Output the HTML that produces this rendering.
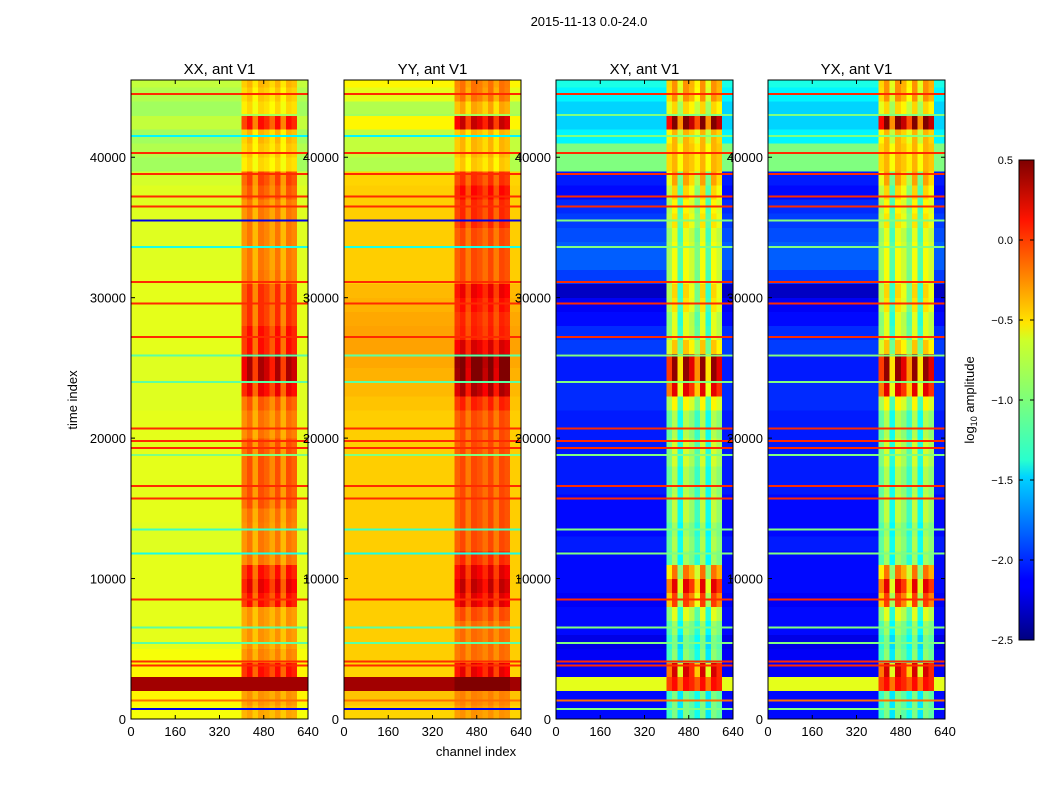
<!DOCTYPE html>
<html><head><meta charset="utf-8">
<style>
body{margin:0;background:#fff;font-family:"Liberation Sans",sans-serif;}
svg text{font-family:"Liberation Sans",sans-serif;fill:#000;}
</style></head>
<body>
<svg id="fig" width="1050" height="800" viewBox="0 0 1050 800" xmlns="http://www.w3.org/2000/svg">
<defs>
<linearGradient id="jet" x1="0" y1="1" x2="0" y2="0">
<stop offset="0" stop-color="#00007f"/><stop offset="0.11" stop-color="#0000ff"/><stop offset="0.125" stop-color="#0000ff"/>
<stop offset="0.34" stop-color="#00d4ff"/><stop offset="0.375" stop-color="#29ffce"/><stop offset="0.5" stop-color="#7dff7a"/>
<stop offset="0.625" stop-color="#ceff29"/><stop offset="0.66" stop-color="#ffe500"/><stop offset="0.875" stop-color="#ff1400"/>
<stop offset="1" stop-color="#7f0000"/></linearGradient>
</defs>
<text x="589" y="26" font-size="13" text-anchor="middle">2015-11-13 0.0-24.0</text>
<text x="476" y="756" font-size="13" text-anchor="middle">channel index</text>
<text x="0" y="0" font-size="13" text-anchor="middle" transform="translate(77,400) rotate(-90)">time index</text>
<g id="panels"></g>
<g>
<rect x="1019" y="160" width="15" height="480" fill="url(#jet)" stroke="#000" stroke-width="1"/>
<g id="cbticks"></g>
<text x="0" y="0" font-size="13" text-anchor="middle" transform="translate(974,400) rotate(-90)">log<tspan font-size="9" dy="3">10</tspan><tspan dy="-3"> amplitude</tspan></text>
</g>
</svg>
<script>
// ---- data ----
const panelTitles = ["XX, ant V1","YY, ant V1","XY, ant V1","YX, ant V1"];
const yTicks = [0,10000,20000,30000,40000];
const xTicks = [0,160,320,480,640];
const cbTicks = [0.5,0.0,-0.5,-1.0,-1.5,-2.0,-2.5];
// channel-bin (20 channels each, 32 bins) RFI weight
const rfiWeight = [0,0,0,0,0,0,0,0,0,0,0,0,0,0,0,0,0,0,0,0,0.8,1,0.6,1,0.9,0.7,1,0.6,1,0.9,0,0];
// time bins of 1000, 46 bins: background level
const xxBase = [-0.65,-0.6,0.4,-0.6,-0.65,-0.7,-0.7,-0.7,-0.7,-0.7,-0.7,-0.7,-0.72,-0.72,-0.7,-0.7,-0.7,-0.7,-0.7,-0.7,-0.7,-0.7,-0.72,-0.72,-0.72,-0.72,-0.7,-0.7,-0.7,-0.7,-0.7,-0.7,-0.72,-0.72,-0.72,-0.72,-0.72,-0.72,-0.75,-0.9,-0.85,-0.9,-0.8,-0.9,-0.85,-0.8];
const xxRfi = [0.3,0.3,0.0,0.7,0.4,0.4,0.4,0.4,0.8,0.9,0.8,0.5,0.5,0.5,0.5,0.6,0.6,0.6,0.6,0.6,0.5,0.5,0.6,0.9,1.1,1.1,0.8,0.8,0.7,0.7,0.7,0.5,0.5,0.5,0.5,0.5,0.5,0.6,0.7,0.4,0.4,0.5,0.9,0.4,0.4,0.4];
const yyBase = [-0.5,-0.45,0.4,-0.5,-0.48,-0.48,-0.48,-0.48,-0.48,-0.48,-0.48,-0.48,-0.48,-0.48,-0.48,-0.48,-0.48,-0.48,-0.48,-0.48,-0.48,-0.48,-0.45,-0.42,-0.4,-0.37,-0.35,-0.35,-0.37,-0.4,-0.42,-0.48,-0.48,-0.48,-0.48,-0.48,-0.48,-0.48,-0.5,-0.85,-0.8,-0.8,-0.6,-0.85,-0.7,-0.6];
const yyRfi = [0.2,0.2,0.2,0.7,0.3,0.3,0.3,0.4,0.7,0.8,0.7,0.5,0.4,0.4,0.4,0.4,0.4,0.4,0.4,0.4,0.4,0.4,0.5,0.8,1.0,1.0,0.6,0.4,0.4,0.5,0.6,0.4,0.4,0.4,0.4,0.5,0.5,0.6,0.5,0.4,0.4,0.4,0.9,0.5,0.5,0.4];
const xyBase = [-2.1,-2.1,-0.7,-2.15,-2.15,-2.2,-2.1,-2.1,-2.15,-2.1,-2.1,-2.1,-2.05,-2.1,-2.1,-2.1,-2.05,-2.05,-2.05,-2.05,-2.05,-2.05,-2.0,-2.0,-2.05,-2.05,-1.95,-2.0,-2.1,-2.15,-2.3,-1.95,-1.85,-1.85,-1.9,-1.95,-2.0,-2.1,-2.05,-1.0,-1.0,-1.4,-1.5,-1.5,-1.4,-1.3];
const xyRfi = [1.1,1.1,0.8,2.4,1.2,1.2,1.2,1.4,2.1,2.3,1.9,1.2,1.2,1.2,1.3,1.3,1.2,1.2,1.3,1.3,1.2,1.2,1.4,2.2,2.5,2.5,1.5,1.3,1.4,1.6,1.8,1.3,1.2,1.2,1.2,1.4,1.4,1.6,1.7,0.6,0.6,1.0,2.0,1.0,1.1,1.0];
const stripeTimes = [700,1300,3800,4100,5400,6500,8500,11800,13500,15700,16600,18800,19300,19800,20700,24000,25900,27200,29600,31100,33600,35500,36500,37200,38800,40300,41500,43000,44500];
const xxStripes = [-2.2,-0.2,0.0,0.0,-1.1,-1.1,0.0,-1.3,-1.2,0.0,0.0,-1.0,0.0,0.0,0.0,-1.1,-1.1,0.0,0.0,0.0,-1.3,-2.2,0.0,0.0,0.0,0.0,-1.4,-0.9,0.0];
const yyStripes = [-2.2,-0.2,0.0,0.0,-1.1,-1.1,0.0,-1.3,-1.2,0.0,0.0,-1.0,0.0,0.0,0.0,-1.1,-1.1,0.0,0.0,0.0,-1.3,-2.2,0.0,0.0,0.0,0.0,-1.4,-0.9,0.0];
const xyStripes = [-1.0,-0.2,0.0,0.0,-1.0,-1.0,0.0,-1.0,-1.0,0.0,0.0,-1.0,0.0,0.0,0.0,-1.0,-1.0,0.0,0.0,0.0,-1.0,-1.0,0.0,0.0,0.0,0.0,-1.0,-1.0,0.0];

// ---- scales ----
const panelX = [131,344,556,768], panelW = 177, y0 = 719, yTop = 80, tMax = 45500;
const yScale = t => y0 - t*(y0-yTop)/tMax;
const xScale = (px,c) => px + c*panelW/640;
const cbScale = v => 640 - (v+2.5)/3*480;
function jet(v){
  let x = Math.max(0,Math.min(1,(v+2.5)/3));
  const r = Math.max(0,Math.min(1,1.5-Math.abs(4*x-3)));
  const g = Math.max(0,Math.min(1,1.5-Math.abs(4*x-2)));
  const b = Math.max(0,Math.min(1,1.5-Math.abs(4*x-1)));
  return `rgb(${Math.round(r*255)},${Math.round(g*255)},${Math.round(b*255)})`;
}
const NS = "http://www.w3.org/2000/svg";
function mk(tag, attrs, parent){
  const e = document.createElementNS(NS, tag);
  for (const k in attrs) e.setAttribute(k, attrs[k]);
  parent.appendChild(e); return e;
}
const panelData = [[xxBase,xxRfi,xxStripes],[yyBase,yyRfi,yyStripes],[xyBase,xyRfi,xyStripes],[xyBase,xyRfi,xyStripes]];
const root = document.getElementById('panels');
panelData.forEach((pd,p)=>{
  const [base,rfi,stripes] = pd;
  const px = panelX[p];
  const g = mk('g',{},root);
  
  
  const cells = mk('g',{'shape-rendering':'crispEdges'},g);
  base.forEach((b,i)=>{
    const t0=i*1000, t1=Math.min((i+1)*1000,tMax);
    if (t0>=tMax) return;
    rfiWeight.forEach((w,j)=>{
      const v = b + rfi[i]*w;
      const r = mk('rect',{x:xScale(px,j*20),y:yScale(t1),width:panelW/32+0.3,height:yScale(t0)-yScale(t1)+0.3,fill:jet(v)},cells);
      
      
    });
  });
  stripeTimes.forEach((t,k)=>{
    const r = mk('rect',{x:px,y:yScale(t)-1,width:panelW,height:2,fill:jet(stripes[k])},cells);
    
    
  });
  mk('rect',{x:px,y:yTop,width:panelW,height:y0-yTop,fill:'none',stroke:'#000','stroke-width':1},g);
  const tt = mk('text',{x:px+panelW/2,y:74,'font-size':15,'text-anchor':'middle'},g);
  tt.textContent = panelTitles[p];
  
  
  yTicks.forEach(t=>{
    const y=yScale(t);
    mk('line',{x1:px,x2:px+4,y1:y,y2:y,stroke:'#000'},g);
    mk('line',{x1:px+panelW-4,x2:px+panelW,y1:y,y2:y,stroke:'#000'},g);
    const l = mk('text',{x:px-5,y:y+5,'font-size':13,'text-anchor':'end'},g);
    l.textContent = t;
    
    
  });
  xTicks.forEach(c=>{
    const x=xScale(px,c);
    mk('line',{x1:x,x2:x,y1:y0,y2:y0-4,stroke:'#000'},g);
    mk('line',{x1:x,x2:x,y1:yTop,y2:yTop+4,stroke:'#000'},g);
    const l = mk('text',{x:x,y:y0+17,'font-size':13,'text-anchor':'middle'},g);
    l.textContent = c;
    
    
  });
});
const cbg = document.getElementById('cbticks');
cbTicks.forEach(v=>{
  const y = cbScale(v);
  mk('line',{x1:1019,x2:1023,y1:y,y2:y,stroke:'#000'},cbg);
  mk('line',{x1:1030,x2:1034,y1:y,y2:y,stroke:'#000'},cbg);
  const l = mk('text',{x:1013,y:y+4,'font-size':11,'text-anchor':'end'},cbg);
  l.textContent = v.toFixed(1).replace('-','\u2212');
  
  
});
</script>
</body></html>
